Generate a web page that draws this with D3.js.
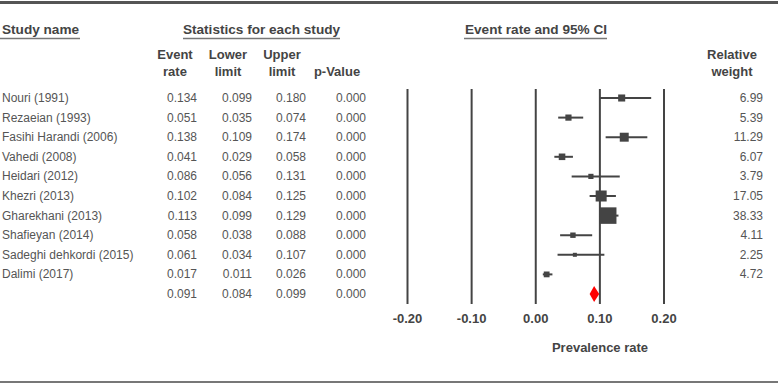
<!DOCTYPE html>
<html>
<head>
<meta charset="utf-8">
<script src="https://cdn.jsdelivr.net/npm/d3@7"></script>
<style>
body { margin: 0; background: #fff; }
text { font-family: "Liberation Sans", Arial, sans-serif; font-size: 12px; }
text.b { font-weight: bold; font-size: 13px; }
</style>
</head>
<body>
<svg id="chart" width="778" height="384"></svg>
<script>
var studies = ['Nouri (1991)', 'Rezaeian (1993)', 'Fasihi Harandi (2006)', 'Vahedi (2008)', 'Heidari (2012)',
	'Khezri (2013)', 'Gharekhani (2013)', 'Shafieyan (2014)', 'Sadeghi dehkordi (2015)', 'Dalimi (2017)', ''];
var eventRate = [0.134, 0.051, 0.138, 0.041, 0.086, 0.102, 0.113, 0.058, 0.061, 0.017, 0.091];
var lowerLimit = [0.099, 0.035, 0.109, 0.029, 0.056, 0.084, 0.099, 0.038, 0.034, 0.011, 0.084];
var upperLimit = [0.180, 0.074, 0.174, 0.058, 0.131, 0.125, 0.129, 0.088, 0.107, 0.026, 0.099];
var pValue = [0, 0, 0, 0, 0, 0, 0, 0, 0, 0, 0];
var weight = [6.99, 5.39, 11.29, 6.07, 3.79, 17.05, 38.33, 4.11, 2.25, 4.72];
var ticks = [-0.20, -0.10, 0.00, 0.10, 0.20];

var svg = d3.select('#chart');
var ink = '#444', txt = '#555';

var x = d3.scaleLinear().domain([-0.2, 0.2]).range([407.5, 664]);
var y = d3.scaleLinear().domain([0, 10]).range([98, 294]);
var side = d3.scaleSqrt().domain([0, 38.33]).range([0, 16.5]);

// rules
svg.append('line').attr('x1', 0).attr('x2', 778).attr('y1', 2.5).attr('y2', 2.5)
	.attr('stroke', '#555').attr('stroke-width', 3);
svg.append('line').attr('x1', 0).attr('x2', 778).attr('y1', 382).attr('y2', 382)
	.attr('stroke', '#777').attr('stroke-width', 2);

// group headers
function header(t, cx, x1, x2, anchor) {
	svg.append('text').attr('class', 'b').attr('x', cx).attr('y', 34).attr('text-anchor', anchor)
		.style('font-size', '13.6px').attr('fill', ink).text(t);
	svg.append('line').attr('x1', x1).attr('x2', x2).attr('y1', 38.5).attr('y2', 38.5)
		.attr('stroke', '#777').attr('stroke-width', 1.5);
}
header('Study name', 2, 0, 80, 'start');
header('Statistics for each study', 261.5, 183, 340, 'middle');
header('Event rate and 95% CI', 536, 464, 607, 'middle');

var colHeads = [['Event', 'rate', 175], ['Lower', 'limit', 228], ['Upper', 'limit', 282], ['', 'p-Value', 337], ['Relative', 'weight', 732]];
colHeads.forEach(function(c) {
	svg.append('text').attr('class', 'b').attr('x', c[2]).attr('y', 59).attr('text-anchor', 'middle')
		.attr('fill', ink).text(c[0]);
	svg.append('text').attr('class', 'b').attr('x', c[2]).attr('y', 76).attr('text-anchor', 'middle')
		.attr('fill', ink).text(c[1]);
});

// table rows
var fmt = d3.format('.3f');
function column(vals, xr, f) {
	svg.append('g').selectAll('text').data(vals).enter().append('text')
		.attr('x', xr).attr('y', (d, i) => y(i) + 4).attr('text-anchor', 'end')
		.attr('fill', txt).text(f);
}
svg.append('g').selectAll('text').data(studies).enter().append('text')
	.attr('x', 2).attr('y', (d, i) => y(i) + 4).attr('fill', txt).text(d => d);
column(eventRate, 197, fmt);
column(lowerLimit, 252, fmt);
column(upperLimit, 306, fmt);
column(pValue, 366, fmt);
column(weight, 763, d3.format('.2f'));

// reference lines
svg.append('g').selectAll('line').data(ticks).enter().append('line')
	.attr('x1', d => x(d)).attr('x2', d => x(d)).attr('y1', 89).attr('y2', 304)
	.attr('stroke', ink).attr('stroke-width', 2);
svg.append('g').selectAll('text').data(ticks).enter().append('text')
	.attr('class', 'b').attr('x', d => x(d)).attr('y', 323).attr('text-anchor', 'middle')
	.attr('fill', ink).text(d => d3.format('.2f')(d).replace('\u2212', '-'));
svg.append('text').attr('class', 'b').attr('x', 600).attr('y', 352).attr('text-anchor', 'middle')
	.attr('fill', ink).text('Prevalence rate');

// CIs and squares
var studyIdx = d3.range(weight.length);
svg.append('g').selectAll('line').data(studyIdx).enter().append('line')
	.attr('x1', i => x(lowerLimit[i])).attr('x2', i => x(upperLimit[i]))
	.attr('y1', i => y(i)).attr('y2', i => y(i))
	.attr('stroke', ink).attr('stroke-width', 2);
svg.append('g').selectAll('rect').data(studyIdx).enter().append('rect')
	.attr('x', i => x(eventRate[i]) - side(weight[i]) / 2)
	.attr('y', i => y(i) - side(weight[i]) / 2)
	.attr('width', i => side(weight[i])).attr('height', i => side(weight[i]))
	.attr('fill', ink);

// summary diamond
var s = 10, cy = y(s);
svg.append('path')
	.attr('d', 'M' + x(lowerLimit[s]) + ',' + cy + 'L' + x(eventRate[s]) + ',' + (cy - 8) +
		'L' + x(upperLimit[s]) + ',' + cy + 'L' + x(eventRate[s]) + ',' + (cy + 8) + 'Z')
	.attr('fill', '#f00');
</script>
</body>
</html>
